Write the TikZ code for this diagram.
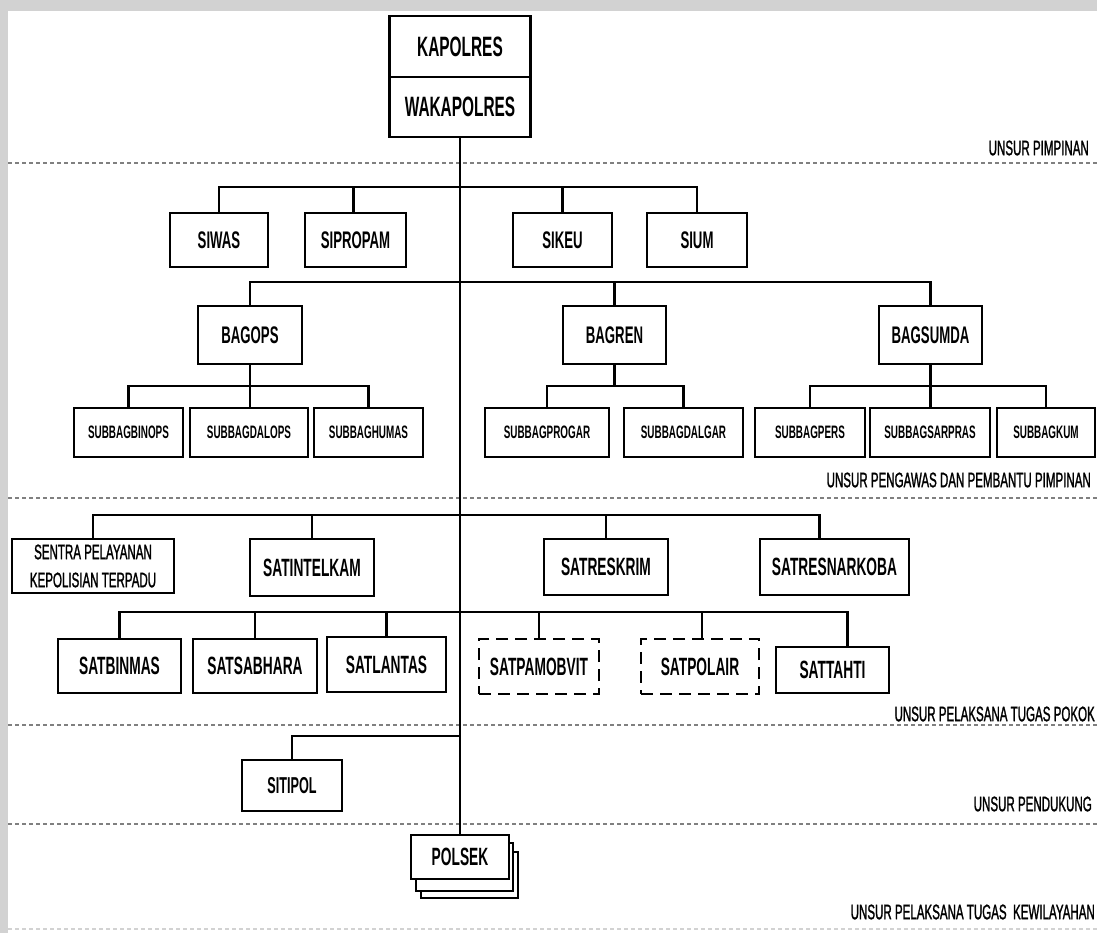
\documentclass[tikz,border=0pt]{standalone}
\usepackage{fontspec}
\setmainfont[FakeStretch=0.55]{Liberation Sans}
\newfontfamily\tipis[FakeStretch=0.55, FakeBold=1.2]{Liberation Sans}
\usepackage{tikz}

\tikzset{
  kotak/.style={draw, line width=2.6pt, fill=white, inner sep=0pt, align=center,
    font=\bfseries\fontsize{24}{26}\selectfont},
  kotakkecil/.style={kotak, font=\bfseries\fontsize{18}{20}\selectfont},
  kotakputus/.style={kotak, dash pattern=on 12pt off 7pt},
  garis/.style={line width=2.6pt},
  batas/.style={draw=gray, line width=1.8pt, dash pattern=on 4pt off 3pt},
  unsur/.style={anchor=east, inner sep=0pt, font=\tipis\fontsize{21}{23}\selectfont}
}

\begin{document}
\begin{tikzpicture}[x=1pt, y=-1pt]
        \useasboundingbox (0,0) rectangle (1097,933);
        \fill[gray!35] (0,0) rectangle (1097,11);
        \fill[gray!35] (0,0) rectangle (8,933);

        % garis batas unsur
        \draw[batas] (8,163) -- (1097,163);
        \draw[batas] (8,498) -- (1097,498);
        \draw[batas] (8,725) -- (1097,725);
        \draw[batas] (8,824) -- (1097,824);
        \draw[batas, draw=gray!35] (8,929) -- (1097,929);

        \node[unsur] (pimpinan) at (1089,148) {UNSUR PIMPINAN};
        \node[unsur] (pengawas) at (1091,480) {UNSUR PENGAWAS DAN PEMBANTU PIMPINAN};
        \node[unsur] (pokok) at (1095,714) {UNSUR PELAKSANA TUGAS POKOK};
        \node[unsur] (pendukung) at (1092,804) {UNSUR PENDUKUNG};
        \node[unsur] (wilayah) at (1095,912) {UNSUR PELAKSANA TUGAS\ \ KEWILAYAHAN};

        % pimpinan
        \node[kotak, minimum width=141pt, minimum height=61pt, font=\bfseries\fontsize{28}{30}\selectfont] (kapolres) at (460,46.5) {KAPOLRES};
        \node[kotak, minimum width=141pt, minimum height=60pt, font=\bfseries\fontsize{28}{30}\selectfont] (wakapolres) at (460,107) {WAKAPOLRES};

        % si
        \node[kotak, minimum width=98pt, minimum height=54pt] (siwas) at (219,240) {SIWAS};
        \node[kotak, minimum width=101pt, minimum height=54pt] (sipropam) at (355.5,240) {SIPROPAM};
        \node[kotak, minimum width=99pt, minimum height=54pt] (sikeu) at (562.5,240) {SIKEU};
        \node[kotak, minimum width=100pt, minimum height=54pt] (sium) at (697,240) {SIUM};

        % bag
        \node[kotak, minimum width=104pt, minimum height=58pt] (bagops) at (250,335) {BAGOPS};
        \node[kotak, minimum width=103pt, minimum height=58pt] (bagren) at (614.5,335) {BAGREN};
        \node[kotak, minimum width=103pt, minimum height=58pt] (bagsumda) at (930.5,335) {BAGSUMDA};

        % subbag
        \node[kotakkecil, minimum width=109pt, minimum height=49pt] (subbagbinops) at (128.5,432.5) {SUBBAGBINOPS};
        \node[kotakkecil, minimum width=118pt, minimum height=49pt] (subbagdalops) at (249,432.5) {SUBBAGDALOPS};
        \node[kotakkecil, minimum width=109pt, minimum height=49pt] (subbaghumas) at (368.5,432.5) {SUBBAGHUMAS};
        \node[kotakkecil, minimum width=124pt, minimum height=49pt] (subbagprogar) at (547,432.5) {SUBBAGPROGAR};
        \node[kotakkecil, minimum width=119pt, minimum height=49pt] (subbagdalgar) at (683.5,432.5) {SUBBAGDALGAR};
        \node[kotakkecil, minimum width=110pt, minimum height=49pt] (subbagpers) at (810,432.5) {SUBBAGPERS};
        \node[kotakkecil, minimum width=120pt, minimum height=49pt] (subbagsarpras) at (930,432.5) {SUBBAGSARPRAS};
        \node[kotakkecil, minimum width=98pt, minimum height=49pt] (subbagkum) at (1046,432.5) {SUBBAGKUM};

        % sat
        \node[kotak, minimum width=162pt, minimum height=54pt, font=\tipis\fontsize{21}{28}\selectfont] (sentra) at (93,566) {SENTRA PELAYANAN\\KEPOLISIAN TERPADU};
        \node[kotak, minimum width=124pt, minimum height=57pt, font=\bfseries\fontsize{25}{27}\selectfont] (satintelkam) at (312,567.5) {SATINTELKAM};
        \node[kotak, minimum width=124pt, minimum height=56pt, font=\bfseries\fontsize{25}{27}\selectfont] (satreskrim) at (606,567) {SATRESKRIM};
        \node[kotak, minimum width=149pt, minimum height=56pt, font=\bfseries\fontsize{25}{27}\selectfont] (satresnarkoba) at (834.5,567) {SATRESNARKOBA};

        \node[kotak, minimum width=123pt, minimum height=54pt, font=\bfseries\fontsize{25}{27}\selectfont] (satbinmas) at (119.5,666) {SATBINMAS};
        \node[kotak, minimum width=124pt, minimum height=54pt, font=\bfseries\fontsize{25}{27}\selectfont] (satsabhara) at (255,666) {SATSABHARA};
        \node[kotak, minimum width=119pt, minimum height=55pt, font=\bfseries\fontsize{25}{27}\selectfont] (satlantas) at (386.5,664.5) {SATLANTAS};
        \node[kotakputus, minimum width=120pt, minimum height=55pt, font=\bfseries\fontsize{25}{27}\selectfont] (satpamobvit) at (539,666.5) {SATPAMOBVIT};
        \node[kotakputus, minimum width=118pt, minimum height=55pt, font=\bfseries\fontsize{25}{27}\selectfont] (satpolair) at (700,666.5) {SATPOLAIR};
        \node[kotak, minimum width=113pt, minimum height=46pt, font=\bfseries\fontsize{25}{27}\selectfont] (sattahti) at (832.5,670) {SATTAHTI};

        % pendukung dan kewilayahan
        \node[kotak, minimum width=100pt, minimum height=51pt, font=\bfseries\fontsize{23}{25}\selectfont] (sitipol) at (292,785.5) {SITIPOL};
        \node[kotak, minimum width=97pt, minimum height=46pt] (polsekc) at (469.5,875) {};
        \node[kotak, minimum width=97pt, minimum height=48pt] (polsekb) at (464.5,867) {};
        \node[kotak, minimum width=98pt, minimum height=44pt, font=\bfseries\fontsize{25}{27}\selectfont] (polsek) at (460,857) {POLSEK};

        % garis komando
        \coordinate (sibus) at (0,187);
        \coordinate (bagbus) at (0,282);
        \coordinate (subbus) at (0,386);
        \coordinate (satbus) at (0,515);
        \coordinate (subsatbus) at (0,612);
        \coordinate (sitibus) at (0,736);
        \coordinate (narkotop) at ([xshift=-15pt]satresnarkoba.north);
        \coordinate (tahtitop) at ([xshift=15pt]sattahti.north);

        \draw[garis] (wakapolres.south) -- (polsek.north);

        \draw[garis] (siwas.north) |- (sium.north |- sibus) -- (sium.north);
        \draw[garis] ([xshift=-2pt]sipropam.north) -- ([xshift=-2pt]sipropam.north |- sibus);
        \draw[garis] (sikeu.north) -- (sikeu.north |- sibus);

        \draw[garis] (bagops.north) |- (bagsumda.north |- bagbus) -- (bagsumda.north);
        \draw[garis] (bagren.north) -- (bagren.north |- bagbus);

        \draw[garis] (subbagbinops.north) |- (subbaghumas.north |- subbus) -- (subbaghumas.north);
        \draw[garis] (bagops.south) -- (bagops.south |- subbagdalops.north);
        \draw[garis] (subbagprogar.north) |- (subbagdalgar.north |- subbus) -- (subbagdalgar.north);
        \draw[garis] (bagren.south) -- (bagren.south |- subbus);
        \draw[garis] (subbagpers.north) |- (subbagkum.north |- subbus) -- (subbagkum.north);
        \draw[garis] (bagsumda.south) -- (bagsumda.south |- subbagsarpras.north);

        \draw[garis] (sentra.north) |- (narkotop |- satbus) -- (narkotop);
        \draw[garis] (satintelkam.north) -- (satintelkam.north |- satbus);
        \draw[garis] (satreskrim.north) -- (satreskrim.north |- satbus);

        \draw[garis] (satbinmas.north) |- (tahtitop |- subsatbus) -- (tahtitop);
        \draw[garis] (satsabhara.north) -- (satsabhara.north |- subsatbus);
        \draw[garis] (satlantas.north) -- (satlantas.north |- subsatbus);
        \draw[garis] (satpamobvit.north) -- (satpamobvit.north |- subsatbus);
        \draw[garis] ([xshift=2pt]satpolair.north) -- ([xshift=2pt]satpolair.north |- subsatbus);

        \draw[garis] (sitipol.north) |- (polsek.north |- sitibus);
\end{tikzpicture}
\end{document}
